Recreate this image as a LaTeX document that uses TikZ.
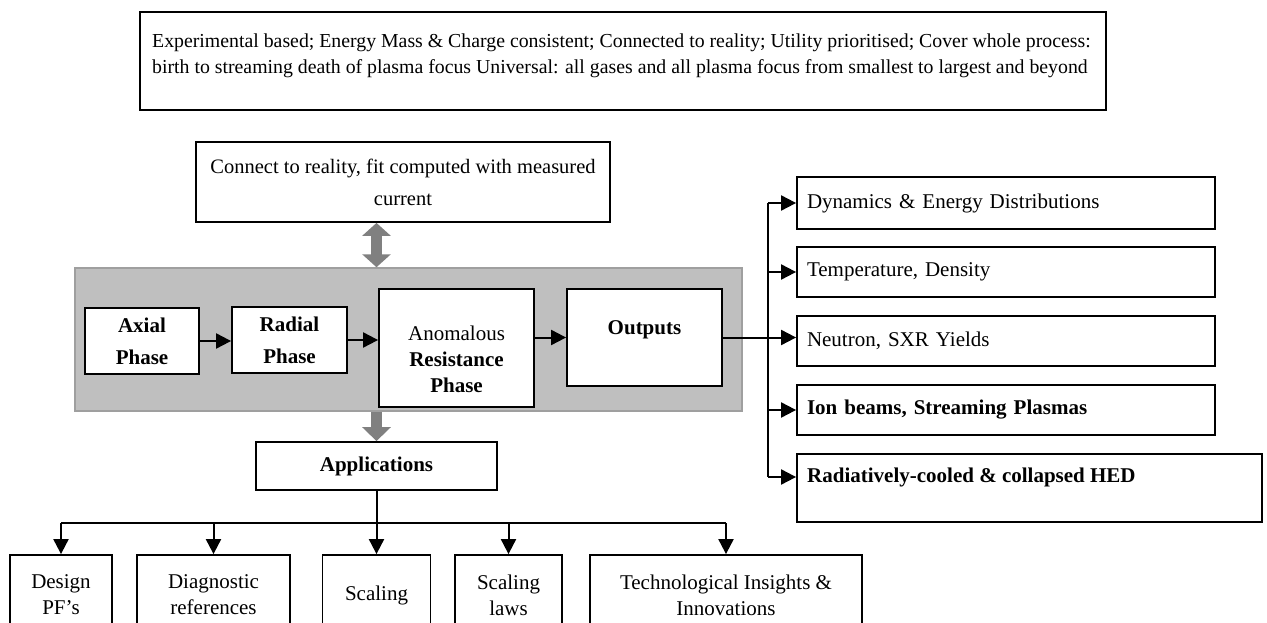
\documentclass[tikz,border=0pt]{standalone}
\usepackage{fontspec}
\setmainfont{Liberation Serif}
\usetikzlibrary{positioning,arrows.meta}

\tikzset{
  box/.style={draw, line width=1.8pt, fill=white, inner sep=0pt, align=center, font=\fontsize{21}{32}\selectfont},
  bbox/.style={box, font=\fontsize{21}{32}\selectfont\bfseries},
  obox/.style={box, text width=398pt, inner xsep=10pt, minimum height=50pt, align=left, font=\fontsize{21}{28}\selectfont},
  sbox/.style={box, minimum height=80pt, font=\fontsize{21}{26}\selectfont},
  panel/.style={draw=gray!75, fill=gray!50, line width=1.5pt, inner sep=0pt},
  lbl/.style={inner sep=0pt, align=center, font=\fontsize{21}{26}\selectfont},
  arr/.style={line width=2pt, -{Triangle[length=15pt,width=15pt]}},
  link/.style={line width=2pt},
  fat/.style={line width=11pt, gray, -{Triangle[length=14pt,width=28pt]}},
  fatboth/.style={line width=11pt, gray, {Triangle[length=13pt,width=28pt]}-{Triangle[length=13pt,width=28pt]}}
}

\begin{document}
\begin{tikzpicture}[x=1pt,y=-1pt]
\useasboundingbox (0,0) rectangle (1267,623);
\clip (0,0) rectangle (1267,623);

% model goals
\node[box, minimum width=966pt, minimum height=98pt] (goals) at (623,61) {};
\node[lbl, anchor=west, align=left, font=\fontsize{19.8}{26}\selectfont] (goalstxt) at (152,55.5)
  {Experimental based; Energy Mass \& Charge consistent; Connected to reality; Utility prioritised; Cover whole process:\\
   birth to streaming death of plasma focus Universal: all gases and all plasma focus from smallest to largest and beyond};

% fitting box
\node[box, minimum width=414pt, minimum height=80pt, font=\fontsize{20.5}{32}\selectfont] (fit) at (403,182) {Connect to reality, fit computed with measured\\current};

% code core
\node[panel, minimum width=667pt, minimum height=143pt] (core) at (408.5,339.5) {};
\node[bbox, minimum width=114pt, minimum height=66pt] (axial) at (142,341) {Axial\\Phase};
\node[bbox, minimum width=115pt, minimum height=66pt] (radial) at (289.5,340) {Radial\\Phase};
\node[box, minimum width=155pt, minimum height=118pt] (anom) at (456.5,348) {};
\node[lbl] (anomtxt) at (456.5,359) {Anomalous\\\textbf{Resistance}\\\textbf{Phase}};
\node[box, minimum width=155pt, minimum height=97pt] (out) at (644.5,337.5) {};
\node[lbl, font=\fontsize{21}{26}\selectfont\bfseries] (outtxt) at (644.5,330) {Outputs};

\draw[arr] (axial.east) -- (axial.east -| radial.west);
\draw[arr] (radial.east) -- (radial.east -| anom.west);
\draw[arr] (out.west -| anom.east) -- (out.west);

% outputs list
\coordinate (trunk) at (768,0);
\node[obox, minimum height=52pt] (rt1) at (1006,203) {Dynamics \& Energy Distributions};
\node[obox] (rt2) at (1006,272) {Temperature, Density};
\node[obox] (rt3) at (1006,341) {Neutron, SXR Yields};
\node[obox, font=\fontsize{21}{28}\selectfont\bfseries] (rt4) at (1006,410) {Ion beams, Streaming Plasmas};
\node[obox, text width=445pt, minimum height=68pt] (rt5) at (1029.5,488) {};
\node[lbl, anchor=west, font=\fontsize{21}{26}\selectfont\bfseries] (rt5txt) at (807,477) {Radiatively-cooled \& collapsed HED};

\draw[arr] (out.east) -- (out.east -| rt3.west);
\draw[link] (rt1.west -| trunk) -- (rt5txt.west -| trunk);
\foreach \n in {rt1,rt2,rt4} \draw[arr] (\n.west -| trunk) -- (\n.west);
\draw[arr] (rt5txt.west -| trunk) -- (rt5txt.west -| rt5.west);

% applications
\node[bbox, minimum width=241pt, minimum height=48pt] (appl) at (376.5,466) {Applications};
\draw[fatboth] (fit.south -| appl.north) -- (core.north -| appl.north);
\draw[fat] (core.south -| appl.north) -- (appl.north);

\coordinate (bar) at (0,523);
\node[sbox, minimum width=102pt] (design) at (61,595) {Design\\PF's};
\node[sbox, minimum width=153pt] (diag) at (213.5,595) {Diagnostic\\references};
\node[sbox, minimum width=108pt] (scal) at (376.5,595) {Scaling};
\node[sbox, minimum width=107pt] (laws) at (508.5,595) {Scaling\\laws};
\node[sbox, minimum width=272pt] (tech) at (726,595) {Technological Insights \&\\Innovations};

\draw[link] (design.north |- bar) -- (tech.north |- bar);
\draw[arr] (appl.south) -- (scal.north);
\foreach \n in {design,diag,laws,tech} \draw[arr] (\n.north |- bar) -- (\n.north);
\end{tikzpicture}
\end{document}
